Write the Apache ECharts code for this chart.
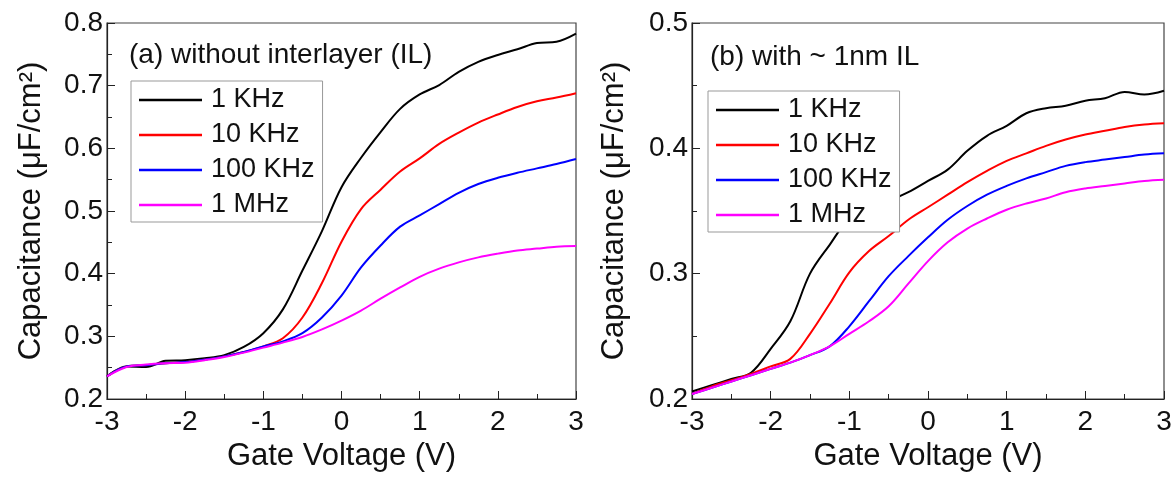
<!DOCTYPE html>
<html>
<head>
<meta charset="utf-8">
<script src="https://cdn.jsdelivr.net/npm/echarts@6/dist/echarts.min.js"></script>
<style>
  html, body { margin: 0; padding: 0; background: #fff; }
  #chart { width: 1175px; height: 477px; }
</style>
</head>
<body>
<div id="chart"></div>
<script>
// gate voltage (V), same grid for both panels
var voltage = [-3, -2.75, -2.5, -2.25, -2, -1.75, -1.5, -1.25, -1, -0.75, -0.5, -0.25, 0,
  0.25, 0.5, 0.75, 1, 1.25, 1.5, 1.75, 2, 2.25, 2.5, 2.75, 3]
var seriesNames = ['1 KHz', '10 KHz', '100 KHz', '1 MHz']
var seriesColors = ['#000000', '#ff0000', '#0000ff', '#ff00ff']

// (a) without interlayer
var capA1k = [0.236, 0.252, 0.251, 0.261, 0.262, 0.265, 0.270, 0.283, 0.305, 0.343, 0.405, 0.468, 0.538,
  0.585, 0.626, 0.663, 0.686, 0.701, 0.722, 0.738, 0.749, 0.758, 0.768, 0.770, 0.783]
var capA10k = [0.236, 0.252, 0.254, 0.257, 0.259, 0.263, 0.268, 0.275, 0.284, 0.297, 0.330, 0.385, 0.451,
  0.503, 0.534, 0.563, 0.584, 0.607, 0.625, 0.641, 0.654, 0.666, 0.675, 0.681, 0.688]
var capA100k = [0.236, 0.252, 0.254, 0.257, 0.259, 0.263, 0.268, 0.275, 0.284, 0.292, 0.305, 0.330, 0.365,
  0.410, 0.445, 0.475, 0.493, 0.511, 0.529, 0.543, 0.553, 0.561, 0.568, 0.575, 0.583]
var capA1M = [0.236, 0.251, 0.255, 0.257, 0.258, 0.262, 0.267, 0.274, 0.282, 0.290, 0.299, 0.311, 0.325,
  0.341, 0.360, 0.378, 0.395, 0.408, 0.418, 0.426, 0.432, 0.437, 0.440, 0.443, 0.444]

// (b) with ~1nm interlayer
var capB1k = [0.206, 0.211, 0.216, 0.221, 0.240, 0.262, 0.300, 0.323, 0.344, 0.352, 0.358, 0.365, 0.374,
  0.383, 0.398, 0.410, 0.418, 0.428, 0.432, 0.434, 0.438, 0.440, 0.445, 0.443, 0.446]
var capB10k = [0.204, 0.210, 0.215, 0.220, 0.226, 0.232, 0.252, 0.276, 0.301, 0.318, 0.330, 0.343, 0.353,
  0.363, 0.373, 0.382, 0.390, 0.396, 0.402, 0.407, 0.411, 0.414, 0.417, 0.419, 0.420]
var capB100k = [0.204, 0.209, 0.214, 0.219, 0.224, 0.229, 0.235, 0.242, 0.258, 0.278, 0.298, 0.314, 0.329,
  0.343, 0.354, 0.363, 0.370, 0.376, 0.381, 0.386, 0.389, 0.391, 0.393, 0.395, 0.396]
var capB1M = [0.204, 0.209, 0.214, 0.219, 0.224, 0.229, 0.235, 0.242, 0.252, 0.262, 0.274, 0.292, 0.310,
  0.325, 0.336, 0.344, 0.351, 0.356, 0.360, 0.365, 0.368, 0.370, 0.372, 0.374, 0.375]

var xTicks = [-3, -2, -1, 0, 1, 2, 3]
var FONT = 'Liberation Sans, Arial, sans-serif'

function pairs (ys) {
  return voltage.map(function (v, i) { return [v, ys[i]] })
}

function makeSeries (lists, axisIndex) {
  return lists.map(function (ys, i) {
    return {
      name: seriesNames[i],
      type: 'line',
      xAxisIndex: axisIndex,
      yAxisIndex: axisIndex,
      showSymbol: false,
      smooth: 0.35,
      lineStyle: { width: 2, color: seriesColors[i] },
      itemStyle: { color: seriesColors[i] },
      data: pairs(ys)
    }
  })
}

function xAxisFor (gi) {
  return {
    type: 'value', gridIndex: gi, min: -3, max: 3, interval: 1,
    name: 'Gate Voltage (V)', nameLocation: 'middle', nameGap: 42,
    nameTextStyle: { fontFamily: FONT, fontSize: 31, color: '#111' },
    axisLine: { onZero: false, lineStyle: { color: '#222', width: 1.2 } },
    axisTick: { inside: true, length: 8, lineStyle: { color: '#222' } },
    minorTick: { show: true, splitNumber: 2, length: 5, lineStyle: { color: '#222' } },
    splitLine: { show: false },
    axisLabel: { fontFamily: FONT, fontSize: 28, color: '#111', margin: 9,
      formatter: function (v) { return xTicks.indexOf(v) >= 0 ? String(v) : '' } }
  }
}

function yAxisFor (gi, max, gap) {
  return {
    type: 'value', gridIndex: gi, min: 0.2, max: max, interval: 0.1,
    name: 'Capacitance (μF/cm²)', nameLocation: 'middle', nameGap: gap, nameRotate: 90,
    nameTextStyle: { fontFamily: FONT, fontSize: 31, color: '#111' },
    axisLine: { onZero: false, lineStyle: { color: '#222', width: 1.2 } },
    axisTick: { inside: true, length: 8, lineStyle: { color: '#222' } },
    minorTick: { show: true, splitNumber: 2, length: 5, lineStyle: { color: '#222' } },
    splitLine: { show: false },
    axisLabel: { fontFamily: FONT, fontSize: 28, color: '#111', margin: 4,
      formatter: function (v) { return v.toFixed(1) } }
  }
}

function legendFor (left, top) {
  return {
    left: left, top: top, orient: 'vertical',
    data: seriesNames,
    icon: 'rect', itemWidth: 63, itemHeight: 2.5, itemGap: 5,
    padding: [4, 8, 2, 8],
    backgroundColor: '#fff',
    borderColor: '#999', borderWidth: 1, borderRadius: 0,
    textStyle: { fontFamily: FONT, fontSize: 27, color: '#111', lineHeight: 30, padding: [0, 0, 0, 4] }
  }
}

var chart = echarts.init(document.getElementById('chart'), null, { renderer: 'canvas' })
chart.setOption({
  animation: false,
  backgroundColor: '#fff',
  title: [
    { text: '(a) without interlayer (IL)', left: 124, top: 36,
      textStyle: { fontFamily: FONT, fontSize: 28, fontWeight: 'normal', color: '#111' } },
    { text: '(b) with ~ 1nm IL', left: 705, top: 38,
      textStyle: { fontFamily: FONT, fontSize: 28, fontWeight: 'normal', color: '#111' } }
  ],
  grid: [
    { left: 107, top: 23, width: 469, height: 379, show: true, borderColor: '#444', borderWidth: 1.2 },
    { left: 692, top: 23, width: 472, height: 382, show: true, borderColor: '#444', borderWidth: 1.2 }
  ],
  legend: [legendFor(131, 81), legendFor(708, 91)],
  xAxis: [xAxisFor(0), xAxisFor(1)],
  yAxis: [yAxisFor(0, 0.8, 60), yAxisFor(1, 0.5, 62)],
  series: makeSeries([capA1k, capA10k, capA100k, capA1M], 0)
    .concat(makeSeries([capB1k, capB10k, capB100k, capB1M], 1))
})
</script>
</body>
</html>
